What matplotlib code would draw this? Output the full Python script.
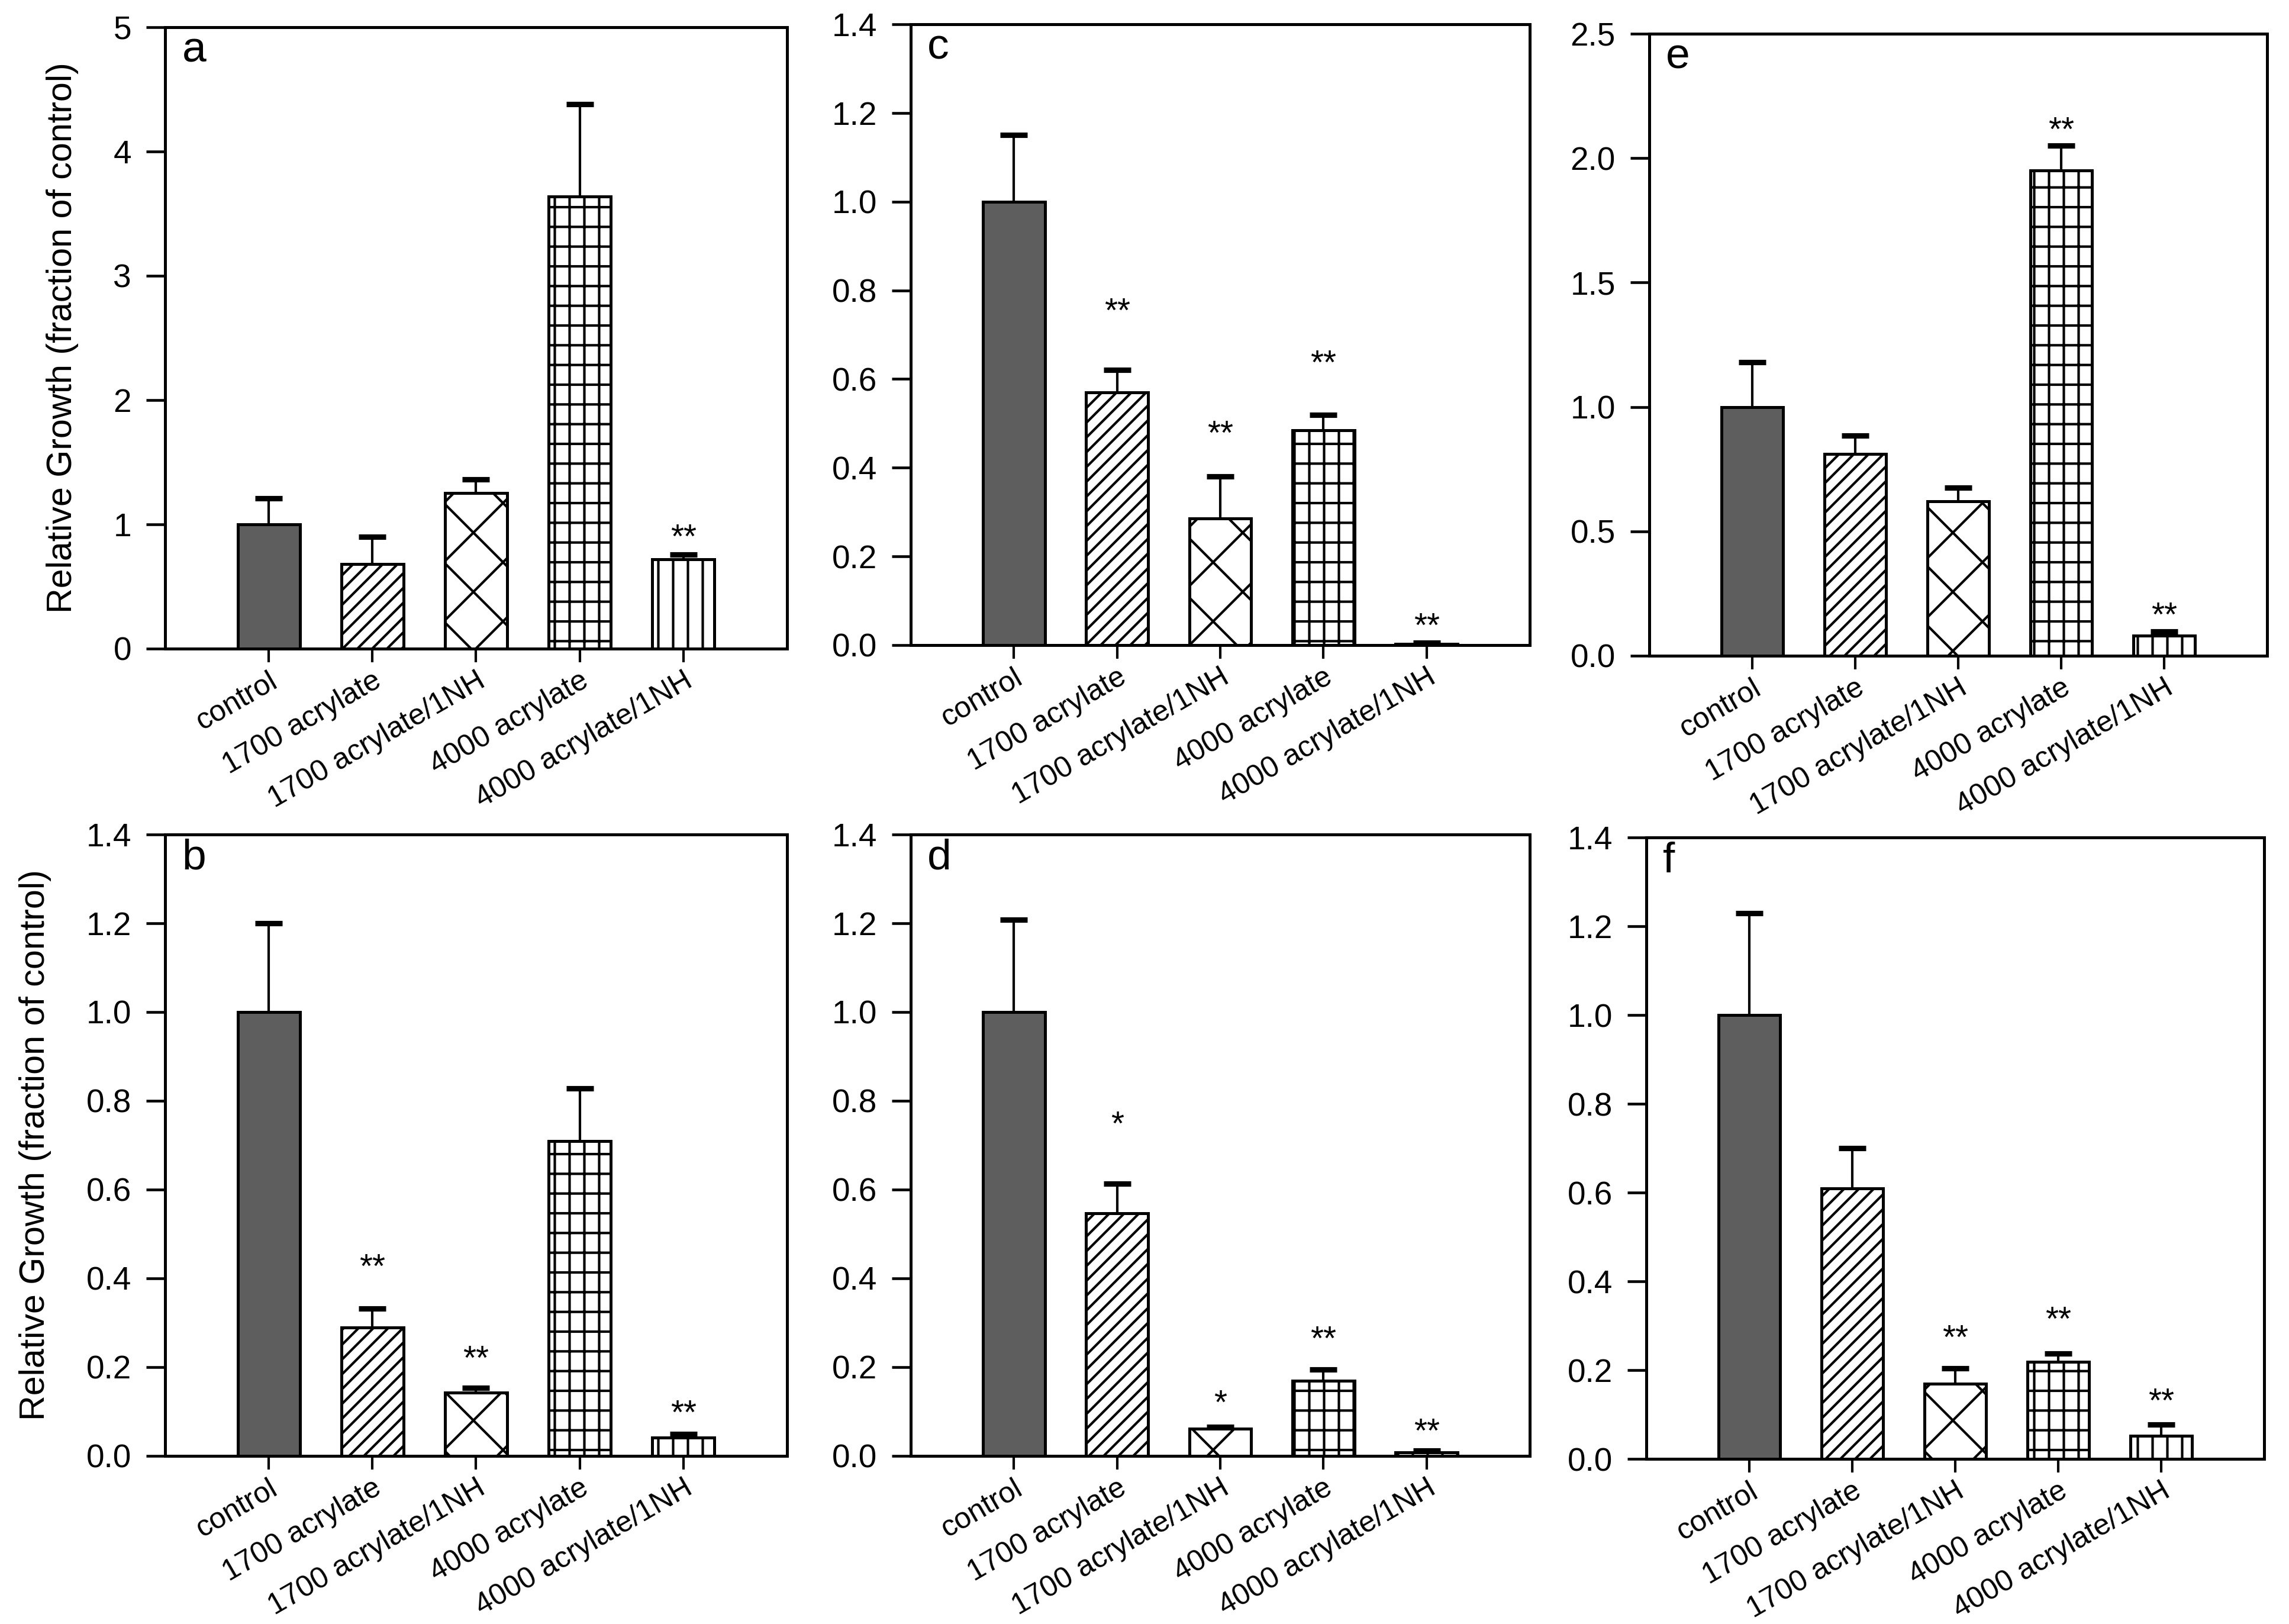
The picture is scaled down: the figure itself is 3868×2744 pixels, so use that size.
import numpy as np
import matplotlib
matplotlib.use("Agg")
import matplotlib.pyplot as plt
from matplotlib.ticker import FormatStrFormatter, MultipleLocator

plt.rcParams['font.family'] = ['Liberation Sans', 'DejaVu Sans']
plt.rcParams['hatch.linewidth'] = 0.5
plt.rcParams['hatch.color'] = 'black'

# ---------------- data ----------------
categories = ["control", "1700 acrylate", "1700 acrylate/1NH",
              "4000 acrylate", "4000 acrylate/1NH"]

a_mean = [1.00, 0.68, 1.25, 3.64, 0.72]
a_err = [0.21, 0.22, 0.11, 0.74, 0.035]
a_sig = ["", "", "", "", "**"]
a_sig_y = [0, 0, 0, 0, 0.90]

b_mean = [1.00, 0.29, 0.143, 0.709, 0.041]
b_err = [0.20, 0.042, 0.011, 0.119, 0.008]
b_sig = ["", "**", "**", "", "**"]
b_sig_y = [0, 0.427, 0.220, 0, 0.098]

c_mean = [1.00, 0.57, 0.285, 0.484, 0.003]
c_err = [0.15, 0.05, 0.095, 0.035, 0.003]
c_sig = ["", "**", "**", "**", "**"]
c_sig_y = [0, 0.754, 0.478, 0.637, 0.044]

d_mean = [1.00, 0.547, 0.061, 0.170, 0.008]
d_err = [0.208, 0.067, 0.005, 0.025, 0.004]
d_sig = ["", "*", "*", "**", "**"]
d_sig_y = [0, 0.748, 0.121, 0.264, 0.057]

e_mean = [1.00, 0.81, 0.62, 1.95, 0.08]
e_err = [0.18, 0.075, 0.055, 0.10, 0.018]
e_sig = ["", "", "", "**", "**"]
e_sig_y = [0, 0, 0, 2.116, 0.166]

f_mean = [1.00, 0.609, 0.169, 0.219, 0.0525]
f_err = [0.229, 0.091, 0.035, 0.019, 0.0255]
f_sig = ["", "", "**", "**", "**"]
f_sig_y = [0, 0, 0.274, 0.315, 0.131]

panel_letters = ["a", "b", "c", "d", "e", "f"]
ylims = {"a": 5.0, "b": 1.4, "c": 1.4, "d": 1.4, "e": 2.5, "f": 1.4}
ysteps = {"a": 1.0, "b": 0.2, "c": 0.2, "d": 0.2, "e": 0.5, "f": 0.2}
ylabel_text = "Relative Growth (fraction of control)"

# ---------------- styles ----------------
W, H = 3868, 2744
DPI = 600
fig = plt.figure(figsize=(W / DPI, H / DPI), dpi=DPI)

# pixel boxes (left, right, top, bottom)
boxes = {
    "a": (279, 1330, 46, 1096),
    "c": (1539, 2585, 41, 1090),
    "e": (2787, 3831, 57, 1108),
    "b": (279, 1330, 1410, 2460),
    "d": (1539, 2585, 1410, 2460),
    "f": (2782, 3826, 1415, 2465),
}

fills = ['#5e5e5e', 'white', 'white', 'white', 'white']
hatches = [None, '////////', 'xx', '+++|', '||||']

panels = {
    "a": (a_mean, a_err, a_sig, a_sig_y),
    "b": (b_mean, b_err, b_sig, b_sig_y),
    "c": (c_mean, c_err, c_sig, c_sig_y),
    "d": (d_mean, d_err, d_sig, d_sig_y),
    "e": (e_mean, e_err, e_sig, e_sig_y),
    "f": (f_mean, f_err, f_sig, f_sig_y),
}

ytick_fs = 6.6
xtick_fs = 6.0
for key in panel_letters:
    l, r, t, b = boxes[key]
    ax = fig.add_axes([l / W, 1 - b / H, (r - l) / W, (b - t) / H])
    mean, err, sig, sig_y = panels[key]
    x = np.arange(1, len(categories) + 1)

    eb = ax.errorbar(x, mean, yerr=[np.zeros(len(err)), err], fmt='none',
                     ecolor='black', elinewidth=0.5, capsize=2.76,
                     capthick=1.1, zorder=2)
    eb[1][0].set_visible(False)

    for i in range(len(categories)):
        ax.bar(x[i], mean[i], width=0.6, color=fills[i], edgecolor='black',
               linewidth=0.6, hatch=hatches[i], zorder=3)

    for i, s in enumerate(sig):
        if s:
            ax.annotate(s, xy=(x[i], sig_y[i]), xytext=(0, -2.3),
                        textcoords='offset points', ha='center',
                        va='baseline', fontsize=6.8, zorder=5)

    ax.set_xlim(0, 6)
    ax.set_ylim(0, ylims[key])
    ax.yaxis.set_major_locator(MultipleLocator(ysteps[key]))
    if key == "a":
        ax.yaxis.set_major_formatter(FormatStrFormatter('%d'))
    else:
        ax.yaxis.set_major_formatter(FormatStrFormatter('%.1f'))
    ax.set_xticks(x)
    ax.set_xticklabels(categories, rotation=30, ha='right', va='top',
                       rotation_mode='anchor', fontsize=xtick_fs)
    ax.tick_params(axis='x', direction='out', length=2.76, width=0.5,
                   pad=1.0, top=False)
    ax.tick_params(axis='y', direction='out', length=3.84, width=0.55,
                   pad=3.0, labelsize=ytick_fs, right=False)
    for sp in ax.spines.values():
        sp.set_linewidth(0.6)
    ax.text(0.027, 0.944, key, transform=ax.transAxes, fontsize=8.8,
            ha='left', va='baseline')
    if key in ("a", "b"):
        ax.set_ylabel(ylabel_text, fontsize=7.1, labelpad=7)

fig.savefig("out.png", dpi=DPI)
